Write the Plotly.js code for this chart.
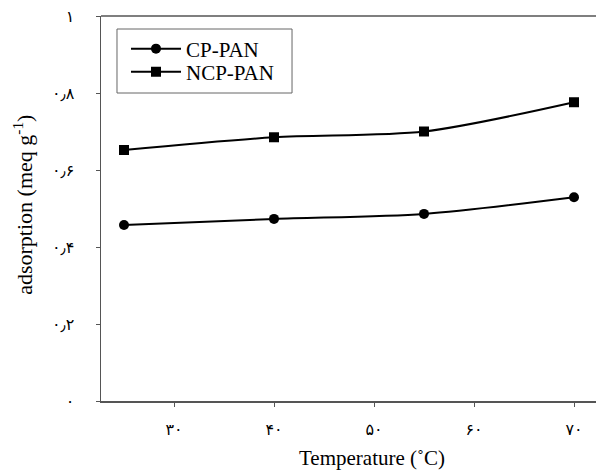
<!DOCTYPE html>
<html>
<head>
<meta charset="utf-8">
<script src="https://cdn.plot.ly/plotly-3.0.1.min.js"></script>
<style>html,body{margin:0;padding:0;background:#fff;overflow:hidden}</style>
</head>
<body>
<div id="chart" style="width:596px;height:473px"></div>
<script>
const temperature = [25, 40, 55, 70];
const cpPan = [0.457, 0.473, 0.486, 0.529];
const ncpPan = [0.652, 0.685, 0.700, 0.776];
const seriesNames = ['CP-PAN', 'NCP-PAN'];
const xTickVals = [30, 40, 50, 60, 70];
const xTickText = ['۳۰', '۴۰', '۵۰', '۶۰', '۷۰'];
const yTickVals = [0, 0.2, 0.4, 0.6, 0.8, 1];
const yTickText = ['۰', '۰٫۲', '۰٫۴', '۰٫۶', '۰٫۸', '۱'];
const xTitle = 'Temperature (˚C)';
const yTitle = 'adsorption (meq g<sup>-1</sup>)';

const serif = 'Liberation Serif, Times New Roman, serif';
const lineStyle = {color: '#000', width: 2, shape: 'spline', smoothing: 0.8};
const legendFont = {family: serif, size: 21, color: '#000'};

const traces = [
  {x: temperature, y: cpPan, name: seriesNames[0], mode: 'lines+markers', type: 'scatter',
   legend: 'legend',
   line: lineStyle, marker: {symbol: 'circle', size: 10, color: '#000'}},
  {x: temperature, y: ncpPan, name: seriesNames[1], mode: 'lines+markers', type: 'scatter',
   legend: 'legend2',
   line: lineStyle, marker: {symbol: 'square', size: 10, color: '#000'}}
];

const legendCommon = {x: 0.0505, xanchor: 'left', yanchor: 'middle', borderwidth: 0,
  bgcolor: 'rgba(0,0,0,0)', font: legendFont, itemwidth: 50};

const layout = {
  width: 596, height: 473,
  margin: {l: 101, r: 0, t: 16, b: 72, pad: 0},
  paper_bgcolor: '#fff', plot_bgcolor: '#fff',
  font: {family: serif, color: '#000', size: 16},
  showlegend: true,
  legend: Object.assign({y: 0.9143}, legendCommon),
  legend2: Object.assign({y: 0.8545}, legendCommon),
  xaxis: {range: [22.7, 72.2], tickmode: 'array', tickvals: xTickVals, ticktext: xTickText,
    showgrid: false, zeroline: false, showline: true, linecolor: '#555', linewidth: 1.5,
    mirror: false, ticks: 'outside', ticklen: 4, tickcolor: '#555', ticklabelstandoff: 9,
    tickfont: {family: 'DejaVu Sans, Liberation Serif', size: 16, color: '#000'}},
  yaxis: {range: [0, 1], tickmode: 'array', tickvals: yTickVals, ticktext: yTickText,
    showgrid: false, zeroline: false, showline: true, linecolor: '#555', linewidth: 1.5,
    mirror: false, ticks: 'outside', ticklen: 4, tickcolor: '#555', ticklabelstandoff: 18,
    tickfont: {family: 'DejaVu Sans, Liberation Serif', size: 16, color: '#000'}},
  shapes: [
    {type: 'line', xref: 'paper', yref: 'paper', x0: 0, x1: 1, y0: 1, y1: 1,
     line: {color: '#555', width: 1.5}},
    {type: 'rect', xref: 'paper', yref: 'paper', x0: 0.0323, x1: 0.3859, y0: 0.8 , y1: 0.9662,
     line: {color: '#666', width: 1}, fillcolor: 'rgba(0,0,0,0)'}
  ],
  annotations: [
    {text: xTitle, xref: 'paper', yref: 'paper', x: 0.547, y: -0.149, xanchor: 'center', yanchor: 'middle',
     showarrow: false, font: {family: serif, size: 21, color: '#000'}},
    {text: yTitle, xref: 'paper', yref: 'paper', x: -0.158, y: 0.509, xanchor: 'center', yanchor: 'middle',
     textangle: -90, showarrow: false, font: {family: serif, size: 22, color: '#000'}}
  ]
};

Plotly.newPlot('chart', traces, layout, {displayModeBar: false, staticPlot: true});
</script>
</body>
</html>
